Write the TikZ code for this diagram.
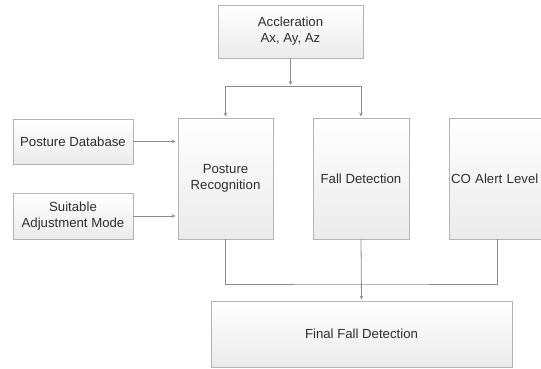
\documentclass[tikz,border=0pt]{standalone}
\usepackage{fontspec}
\setmainfont{Liberation Sans}
\usetikzlibrary{arrows.meta}
\definecolor{boxline}{HTML}{B4B4B4}
\definecolor{conn}{HTML}{8C8C8C}
\definecolor{txt}{HTML}{2E2E2E}
\tikzset{
  blk/.style={draw=boxline, line width=0.9pt, top color=white, bottom color=black!8,
    text=txt, align=center, inner sep=2pt,
    font=\fontsize{13.2}{16}\selectfont},
  wire/.style={draw=conn, line width=0.8pt},
  arr/.style={wire, -{Stealth[length=4pt,width=3.5pt]}, shorten >=1pt}
}
\begin{document}
\begin{tikzpicture}[x=1pt,y=-1pt]
\useasboundingbox (0,0) rectangle (541,368);
\clip (0,0) rectangle (541,368);
\fill[white] (0,0) rectangle (541,368);
\node[blk, minimum width=145pt, minimum height=53pt] (top) at (290.5,31.5) {Accleration\\Ax, Ay, Az};
\node[blk, minimum width=120pt, minimum height=45pt] (pdb) at (73,141.5) {Posture Database};
\node[blk, minimum width=120pt, minimum height=46pt] (sam) at (73,216) {Suitable\\Adjustment Mode};
\node[blk, minimum width=95pt, minimum height=121pt] (pr) at (225.5,178.5) {Posture\\Recognition};
\node[blk, minimum width=96pt, minimum height=121pt] (fd) at (361,178.5) {Fall Detection};
\node[blk, minimum width=96pt, minimum height=121pt, text width=92pt, align=left] (co) at (497,178.5) {CO Alert Level};
\node[blk, minimum width=301pt, minimum height=66pt] (final) at (361.5,334) {Final Fall Detection};
\coordinate (j1) at (290.5,86);
\coordinate (j2) at (361,284);
\draw[arr] (top.south) -- (j1);
\draw[arr] (j1) -| (pr.north);
\draw[arr] (j1) -| (fd.north);
\draw[arr, shorten >=2pt] (pdb.east) -- (pdb.east -| pr.west);
\draw[arr, shorten >=2pt] (sam.east) -- (sam.east -| pr.west);
\draw[wire] (pr.south) |- (j2) -| (co.south);
\draw[arr] (fd.south) -- (final.north);
\end{tikzpicture}
\end{document}
